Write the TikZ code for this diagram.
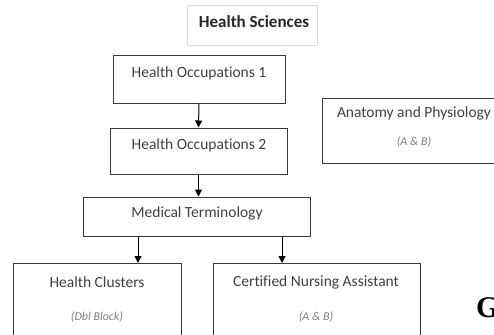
\documentclass[tikz,border=0pt]{standalone}
\usepackage{fontspec}
\setmainfont{Carlito}[Ligatures=NoCommon]
\newfontfamily\gfont{Liberation Serif}
\usetikzlibrary{arrows.meta}
\definecolor{txt}{HTML}{404040}
\definecolor{itx}{HTML}{7F7F7F}
\definecolor{edge}{HTML}{3A3A3A}
\definecolor{lite}{HTML}{D9D9D9}
\tikzset{
  box/.style={draw=edge, line width=1pt, rectangle, inner sep=0pt},
  lbl/.style={text=txt, font=\fontsize{15.5}{17}\selectfont, inner sep=0pt},
  sub/.style={text=itx, font=\fontsize{12}{14}\selectfont\itshape, inner sep=0pt},
  arr/.style={draw=black, line width=1pt, -{Triangle[length=7pt,width=7pt]}}
}
\begin{document}
\begin{tikzpicture}[x=1pt,y=-1pt]
\useasboundingbox (0,0) rectangle (494,334);
\clip (0,0) rectangle (494,334);
\fill[white] (0,0) rectangle (494,334);
% title
\node[draw=lite, line width=0.6pt, minimum width=130pt, minimum height=40pt, inner sep=0pt] (hs) at (252,25) {};
\node[text=black!85, font=\fontsize{17}{19}\selectfont\bfseries, inner sep=0pt] (hst) at (254,22) {Health Sciences};
% boxes
\node[box, minimum width=172pt, minimum height=47pt] (ho1) at (199,79.5) {};
\node[lbl] (ho1t) at (199,73) {Health Occupations 1};
\node[box, minimum width=177pt, minimum height=46pt] (ho2) at (198.5,151) {};
\node[lbl] (ho2t) at (199,145) {Health Occupations 2};
\node[box, minimum width=227pt, minimum height=39pt] (mt) at (196.5,216.5) {};
\node[lbl] (mtt) at (197,213) {Medical Terminology};
\node[box, minimum width=200pt, minimum height=65pt] (ap) at (422,130.5) {};
\node[lbl] (apt) at (414,113) {Anatomy and Physiology};
\node[sub] (aps) at (414,142) {(A \& B)};
\node[box, minimum width=168pt, minimum height=100pt] (hc) at (97,313) {};
\node[lbl] (hct) at (97,282) {Health Clusters};
\node[sub] (hcs) at (97,317) {(Dbl Block)};
\node[box, minimum width=207pt, minimum height=100pt] (cna) at (316.5,313) {};
\node[lbl] (cnat) at (316,282) {Certified Nursing Assistant};
\node[sub] (cnas) at (316,317) {(A \& B)};
\node[font=\gfont\fontsize{30}{32}\selectfont\bfseries, anchor=west, inner sep=0pt] (g) at (476,308) {G};
% arrow end points
\coordinate (a1) at (138,236);
\coordinate (b1) at (138,263);
\coordinate (a2) at (282,236);
\coordinate (b2) at (282,263);
% arrows
\draw[arr] (ho1.south) -- (ho2.north);
\draw[arr] (ho2.south) -- (ho2.south |- mt.north);
\draw[arr] (a1) -- (b1);
\draw[arr] (a2) -- (b2);
\end{tikzpicture}
\end{document}
